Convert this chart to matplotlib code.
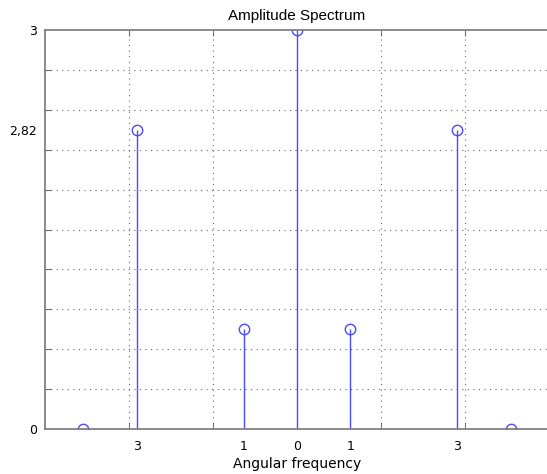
import numpy as np
import matplotlib
matplotlib.use("Agg")
import matplotlib.pyplot as plt

# spectrum samples (amplitude positions)
freqs = [-4, -3, -1, 0, 1, 3, 4]
amps = [0.0, 2.25, 0.75, 3.0, 0.75, 2.25, 0.0]

xtick_pos = [-3, -1, 0, 1, 3]
xtick_labels = ["3", "1", "0", "1", "3"]
ytick_pos = [0, 2.25, 3]
ytick_labels = ["0", "2,82", "3"]

plt.rcParams['font.family'] = ['DejaVu Sans']

fig = plt.figure(figsize=(5.47, 4.74), dpi=100)
ax = fig.add_axes([45 / 547, 1 - 429 / 474, 504 / 547, 399 / 474])

blue = '#4a4aff'
ml, sl, bl = ax.stem(freqs, amps, basefmt=' ')
plt.setp(sl, color=blue, linewidth=1)
plt.setp(ml, marker='o', markersize=7.5, markerfacecolor='none',
         markeredgecolor=blue, markeredgewidth=1)

ax.set_xlim(-1.5 * np.pi, 1.5 * np.pi)
ax.set_ylim(0, 3)

# grid on minor ticks
ax.set_xticks([-np.pi, -np.pi / 2, np.pi / 2, np.pi], minor=True)
ax.set_yticks(np.arange(0, 3.01, 0.3), minor=True)
ax.grid(True, which='minor', color='#666666', linestyle=(0, (1, 4)), linewidth=0.8)
ax.tick_params(which='minor', direction='in', length=4, color='#555555',
               top=True, right=False, left=True, bottom=True)

ax.set_xticks(xtick_pos)
ax.set_xticklabels(xtick_labels)
ax.set_yticks(ytick_pos)
ax.set_yticklabels(ytick_labels)
ax.tick_params(which='major', length=0, labelsize=9, pad=8)
ax.tick_params(axis='y', which='major', pad=6)

for side in ['left', 'bottom', 'top']:
    ax.spines[side].set_color('#777777')
    ax.spines[side].set_linewidth(1.2)
ax.spines['right'].set_visible(False)

ax.set_title("Amplitude Spectrum", fontsize=11, pad=7,
             family=['Liberation Sans', 'DejaVu Sans'])
ax.set_xlabel("Angular frequency", fontsize=10, labelpad=3)

fig.savefig("out.png", dpi=100)
